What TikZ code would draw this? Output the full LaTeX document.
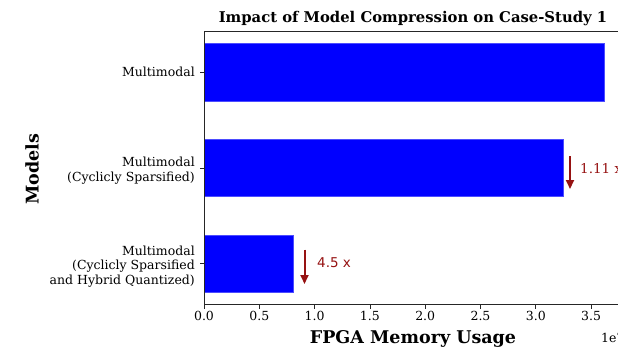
\documentclass[tikz,border=0pt]{standalone}
\usepackage{fontspec}
\setmainfont{DejaVu Serif}
\newfontfamily\plainsans{DejaVu Sans}
\usetikzlibrary{arrows.meta}
\definecolor{gainred}{RGB}{150,18,18}
\begin{document}
\begin{tikzpicture}[x=1pt,y=-1pt,
  spine/.style={line width=0.9pt,draw=black!85},
  tickmark/.style={line width=0.8pt,draw=black!85},
  bar/.style={fill=blue,draw=blue!70,line width=0.4pt},
  ticklab/.style={font=\fontsize{12.5}{14}\selectfont,inner sep=0pt},
  ylab/.style={font=\fontsize{12.5}{14.5}\selectfont,align=right,anchor=east,inner sep=0pt},
  gain/.style={-{Triangle[length=9pt,width=8pt]},line width=2pt,draw=gainred},
  gainlab/.style={text=gainred,anchor=west,inner sep=0pt,font=\fontsize{13.5}{15}\selectfont}]
\useasboundingbox (0,0) rectangle (618,348);
\clip (0,0) rectangle (618,348);

% axis frame (left, top, bottom)
\coordinate (tl) at (204,31.5);
\coordinate (bl) at (204,304.3);
\coordinate (tr) at (630,31.5);
\coordinate (br) at (630,304.3);

% bars
\fill[bar] (204,43.3) rectangle (604.3,101);
\fill[bar] (204,139.5) rectangle (563.5,196.5);
\fill[bar] (204,235) rectangle (293,292);

\draw[spine] (tr) -- (tl) -- (bl) -- (br);

% x ticks
\foreach \v/\t in {0/0.0,1/0.5,2/1.0,3/1.5,4/2.0,5/2.5,6/3.0,7/3.5}{
  \draw[tickmark] (204+\v*55.3,304.3) -- (204+\v*55.3,308.5);
  \node[ticklab,anchor=north] (xt\v) at (204+\v*55.3,311.5) {\t};
}
\node[inner sep=0pt,anchor=west,font=\fontsize{12.5}{14}\selectfont] (offs) at (601,338) {1e7};

% y ticks and labels
\foreach \yy in {72,168,263.5}{
  \draw[tickmark] (204,\yy) -- (199.5,\yy);
}
\node[ylab] (m1) at (195,72) {Multimodal};
\node[ylab] (m2) at (195,170.5) {Multimodal\ \\(Cyclicly Sparsified)};
\node[ylab] (m3) at (195,266.5) {Multimodal\ \\(Cyclicly Sparsified\ \\and Hybrid Quantized)};

% axis labels and title
\node[font=\bfseries\fontsize{17.5}{19}\selectfont,rotate=90,inner sep=0pt] (yname) at (32,169) {Models};
\node[font=\bfseries\fontsize{17.5}{19}\selectfont,inner sep=0pt] (xname) at (413,339) {FPGA Memory Usage};
\node[font=\bfseries\fontsize{14.8}{16}\selectfont,inner sep=0pt] (title) at (413,19) {Impact of Model Compression on Case-Study 1};

% reduction annotations
\coordinate (a1s) at (570,156);
\coordinate (a1e) at (570,189);
\draw[gain] (a1s) -- (a1e);
\node[gainlab] (g1) at (580,169) {1.11 x};
\coordinate (a2s) at (304.5,249.5);
\coordinate (a2e) at (304.5,284);
\draw[gain] (a2s) -- (a2e);
\node[gainlab,font=\plainsans\fontsize{13.5}{15}\selectfont] (g2) at (317,263) {4.5 x};
\end{tikzpicture}
\end{document}
